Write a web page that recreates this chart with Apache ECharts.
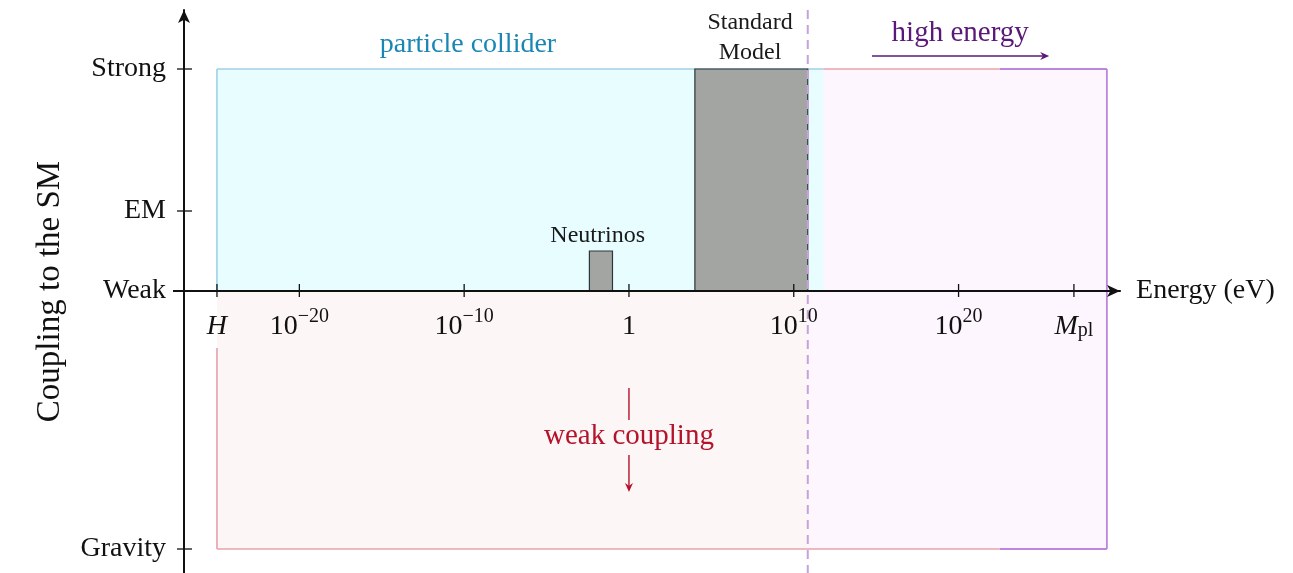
<!DOCTYPE html>
<html>
<head>
<meta charset="utf-8">
<script src="https://cdn.jsdelivr.net/npm/echarts@6/dist/echarts.min.js"></script>
<style>
  html, body { margin: 0; padding: 0; background: #ffffff; }
  #chart { width: 1293px; height: 573px; }
</style>
</head>
<body>
<div id="chart"></div>
<script>
// Energy axis runs in log10(E / eV); the coupling axis is a qualitative strength scale.
const energyTicks = [-25, -20, -10, 0, 10, 20, 27];
const energyTickLabels = ['H', '10^−20', '10^−10', '1', '10^10', '10^20', 'M_pl'];
const couplingTicks = [-2.58, 0, 0.8, 2.22];
const couplingTickLabels = ['Gravity', 'Weak', 'EM', 'Strong'];

// Regions as [log10 E min, log10 E max, coupling min, coupling max]
const weakCouplingRegion = [-25, 10.85, -2.58, 0];
const highEnergyRegion = [10.85, 29, -2.58, 2.22];
const colliderRegion = [-25, 11.8, 0, 2.22];
const standardModelBox = [4, 10.85, 0, 2.22];
const neutrinoBox = [-2.4, -1, 0, 0.4];
const electroweakScale = 10.85;

// Outline segments [x0, y0, x1, y1]
const weakCouplingEdges = [[-25, -0.57, -25, -2.58], [-25, -2.58, 22.5, -2.58], [11.8, 2.22, 22.5, 2.22]];
const highEnergyEdges = [[22.5, 2.22, 29, 2.22], [29, 2.22, 29, -2.58], [29, -2.58, 22.5, -2.58]];
const colliderEdges = [[-25, 0, -25, 2.22], [-25, 2.22, 11.8, 2.22]];

const X_MIN = -27, X_MAX = 29.8, Y_MIN = -2.82, Y_MAX = 2.81;
const PX_PER_DECADE = 16.48;
const GRID_LEFT = 184, GRID_TOP = 10, GRID_HEIGHT = 563;
const GRID_WIDTH = (X_MAX - X_MIN) * PX_PER_DECADE;
// the energy axis sits at the "Weak" level rather than at the grid bottom
const X_AXIS_OFFSET = -GRID_HEIGHT * (0 - Y_MIN) / (Y_MAX - Y_MIN);
const SERIF = '"Liberation Serif", "DejaVu Serif", serif';

const chart = echarts.init(document.getElementById('chart'), null, { renderer: 'canvas' });

function rectSeries(region, style, z) {
  return {
    type: 'custom', z: z, silent: true, clip: false,
    data: [region],
    encode: { x: [0, 1], y: [2, 3] },
    renderItem: function (params, api) {
      const a = api.coord([api.value(0), api.value(3)]);
      const b = api.coord([api.value(1), api.value(2)]);
      return {
        type: 'rect',
        shape: { x: a[0], y: a[1], width: b[0] - a[0], height: b[1] - a[1] },
        style: style
      };
    }
  };
}

function edgeSeries(edges, stroke, width, z) {
  return {
    type: 'custom', z: z, silent: true, clip: false,
    data: edges,
    encode: { x: [0, 2], y: [1, 3] },
    renderItem: function (params, api) {
      const a = api.coord([api.value(0), api.value(1)]);
      const b = api.coord([api.value(2), api.value(3)]);
      return {
        type: 'line',
        shape: { x1: a[0], y1: a[1], x2: b[0], y2: b[1] },
        style: { stroke: stroke, lineWidth: width }
      };
    }
  };
}

function textSeries(point, text, style, z) {
  return {
    type: 'custom', z: z, silent: true, clip: false,
    data: [point],
    renderItem: function (params, api) {
      const p = api.coord([api.value(0), api.value(1)]);
      return {
        type: 'text', x: p[0], y: p[1],
        style: Object.assign({ text: text, align: 'center', verticalAlign: 'middle', fontFamily: SERIF }, style)
      };
    }
  };
}

// Straight arrow with a slim filled head at the end point
function arrowSeries(from, to, color, z) {
  return {
    type: 'custom', z: z, silent: true, clip: false,
    data: [[from[0], from[1], to[0], to[1]]],
    encode: { x: [0, 2], y: [1, 3] },
    renderItem: function (params, api) {
      const a = api.coord([api.value(0), api.value(1)]);
      const b = api.coord([api.value(2), api.value(3)]);
      const dx = b[0] - a[0], dy = b[1] - a[1];
      const len = Math.sqrt(dx * dx + dy * dy);
      const ux = dx / len, uy = dy / len;
      const hl = 9, hw = 4;
      const base = [b[0] - ux * hl, b[1] - uy * hl];
      const notch = [b[0] - ux * hl * 0.7, b[1] - uy * hl * 0.7];
      return {
        type: 'group',
        children: [
          { type: 'line', shape: { x1: a[0], y1: a[1], x2: notch[0], y2: notch[1] },
            style: { stroke: color, lineWidth: 1.4 } },
          { type: 'polygon', shape: { points: [
              b, [base[0] - uy * hw, base[1] + ux * hw], notch, [base[0] + uy * hw, base[1] - ux * hw]
            ] }, style: { fill: color } }
        ]
      };
    }
  };
}

// Tick marks that cross the axis line on both sides
function tickSeries(values, onX, z) {
  return {
    type: 'custom', z: z, silent: true, clip: false,
    data: values.map(v => onX ? [v, 0] : [X_MIN, v]),
    renderItem: function (params, api) {
      const p = api.coord([api.value(0), api.value(1)]);
      const shape = onX
        ? { x1: p[0], y1: p[1] - 7, x2: p[0], y2: p[1] + 6 }
        : { x1: p[0] - 7, y1: p[1], x2: p[0] + 8, y2: p[1] };
      return { type: 'line', shape: shape, style: { stroke: '#111', lineWidth: 1.3 } };
    }
  };
}

// Short continuation of the energy axis past the coupling axis
const axisStubSeries = {
  type: 'custom', z: 6, silent: true, clip: false,
  data: [[X_MIN, 0]],
  renderItem: function (params, api) {
    const p = api.coord([api.value(0), api.value(1)]);
    return { type: 'line', shape: { x1: p[0] - 11, y1: p[1], x2: p[0], y2: p[1] },
      style: { stroke: '#111', lineWidth: 2 } };
  }
};

function energyLabel(v) {
  const i = energyTicks.findIndex(t => Math.abs(t - v) < 1e-6);
  const s = i < 0 ? '' : energyTickLabels[i];
  if (s === 'H') return '{it|H}';
  if (s === 'M_pl') return '{it|M}{sub|pl}';
  if (s.indexOf('^') >= 0) {
    const parts = s.split('^');
    return '{b|' + parts[0] + '}{sup|' + parts[1] + '}';
  }
  return '{b|' + s + '}';
}

function couplingLabel(v) {
  const i = couplingTicks.findIndex(t => Math.abs(t - v) < 1e-6);
  return i < 0 ? '' : couplingTickLabels[i];
}

const option = {
  backgroundColor: '#ffffff',
  animation: false,
  grid: { left: GRID_LEFT, top: GRID_TOP, width: GRID_WIDTH, height: GRID_HEIGHT, containLabel: false, outerBoundsMode: 'none' },
  xAxis: {
    type: 'value', min: X_MIN, max: X_MAX, position: 'bottom', offset: X_AXIS_OFFSET, z: 10,
    name: 'Energy (eV)', nameLocation: 'end', nameGap: 16,
    nameTextStyle: { fontFamily: SERIF, fontSize: 28, color: '#111', align: 'left', verticalAlign: 'middle', padding: [0, 0, 6, 0] },
    axisLine: { onZero: false, lineStyle: { color: '#111', width: 2 }, symbol: ['none', 'arrow'], symbolSize: [9, 13], symbolOffset: [0, 0] },
    axisTick: { show: false },
    splitLine: { show: false },
    axisLabel: {
      customValues: energyTicks, margin: 16, color: '#111',
      formatter: energyLabel,
      rich: {
        b: { fontFamily: SERIF, fontSize: 28, lineHeight: 34, verticalAlign: 'bottom', color: '#111' },
        sup: { fontFamily: SERIF, fontSize: 20, lineHeight: 20, verticalAlign: 'top', color: '#111' },
        it: { fontFamily: SERIF, fontSize: 28, fontStyle: 'italic', lineHeight: 34, verticalAlign: 'bottom', color: '#111' },
        sub: { fontFamily: SERIF, fontSize: 20, lineHeight: 20, verticalAlign: 'bottom', color: '#111' }
      }
    }
  },
  yAxis: {
    type: 'value', min: Y_MIN, max: Y_MAX, z: 10,
    name: 'Coupling to the SM', nameLocation: 'middle', nameGap: 117, nameRotate: 90,
    nameTextStyle: { fontFamily: SERIF, fontSize: 33, color: '#111' },
    axisLine: { show: true, onZero: false, lineStyle: { color: '#111', width: 2 }, symbol: ['none', 'arrow'], symbolSize: [9, 13], symbolOffset: [0, 0] },
    axisTick: { show: false },
    splitLine: { show: false },
    axisLabel: {
      customValues: couplingTicks, margin: 18, color: '#111',
      fontFamily: SERIF, fontSize: 28, formatter: couplingLabel
    }
  },
  series: [
    rectSeries(highEnergyRegion, { fill: '#fef6fe' }, 1),
    rectSeries(weakCouplingRegion, { fill: '#fdf6f6' }, 1),
    rectSeries(colliderRegion, { fill: '#e7fdff' }, 2),
    edgeSeries(highEnergyEdges, '#bb86dc', 1.8, 3),
    edgeSeries(weakCouplingEdges, '#e8a2aa', 1.6, 3),
    edgeSeries(colliderEdges, '#9fd0e6', 1.6, 3),
    rectSeries(standardModelBox, { fill: '#a3a5a2', stroke: '#2c3638', lineWidth: 1.2 }, 4),
    rectSeries(neutrinoBox, { fill: '#a3a5a2', stroke: '#2c3638', lineWidth: 1.2 }, 4),
    {
      type: 'custom', z: 5, silent: true, clip: false,
      data: [[electroweakScale]],
      renderItem: function (params, api) {
        const top = api.coord([api.value(0), Y_MAX]);
        const bottom = api.coord([api.value(0), Y_MIN]);
        return {
          type: 'line',
          shape: { x1: top[0], y1: top[1], x2: bottom[0], y2: bottom[1] },
          style: { stroke: '#c7a2da', lineWidth: 2, lineDash: [9, 6] }
        };
      }
    },
    axisStubSeries,
    tickSeries(energyTicks, true, 6),
    tickSeries(couplingTicks, false, 6),
    textSeries([-9.77, 2.46], 'particle collider', { fontSize: 28, fill: '#1a86b4' }, 7),
    textSeries([7.35, 2.53], 'Standard\nModel', { fontSize: 24, fill: '#1a1a1a', lineHeight: 30 }, 7),
    textSeries([-1.9, 0.55], 'Neutrinos', { fontSize: 24, fill: '#1a1a1a' }, 7),
    textSeries([20.1, 2.58], 'high energy', { fontSize: 29, fill: '#5a1878' }, 7),
    arrowSeries([14.75, 2.35], [25.5, 2.35], '#5a1878', 7),
    textSeries([0, -1.45], 'weak coupling', { fontSize: 29, fill: '#b3132b' }, 7),
    edgeSeries([[0, -0.97, 0, -1.29]], '#b3132b', 1.4, 7),
    arrowSeries([0, -1.64], [0, -2.01], '#b3132b', 7)
  ]
};

chart.setOption(option);
</script>
</body>
</html>
